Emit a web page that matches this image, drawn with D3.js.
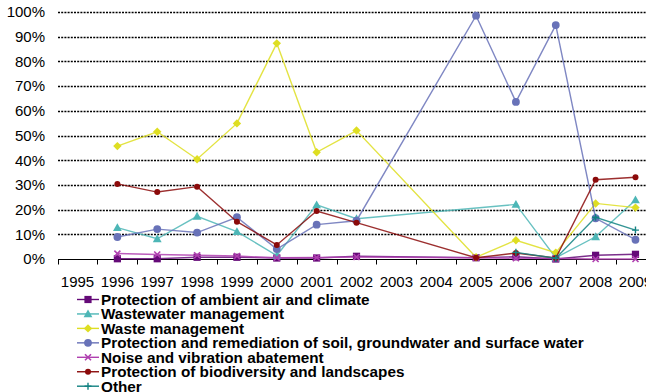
<!DOCTYPE html>
<html><head><meta charset="utf-8">
<script src="https://cdn.jsdelivr.net/npm/d3@7"></script>
<style>
html,body{margin:0;padding:0;background:#fff;overflow:hidden}
svg{display:block;font-family:Arial,"Liberation Sans",sans-serif}
</style></head>
<body>
<script>
const years = ["1995","1996","1997","1998","1999","2000","2001","2002","2003","2004","2005","2006","2007","2008","2009"];
const yTicks = [0,0.1,0.2,0.3,0.4,0.5,0.6,0.7,0.8,0.9,1.0];
const seriesNames = [
  "Protection of ambient air and climate",
  "Wastewater management",
  "Waste management",
  "Protection and remediation of soil, groundwater and surface water",
  "Noise and vibration abatement",
  "Protection of biodiversity and landscapes",
  "Other"
];
// values in percent
const airClimate   = [null,0.1,0.1,0.7,0.7,0.4,0.4,1.1,null,null,0.5,0.9,0.0,1.5,1.9];
const wastewater   = [null,12.7,8.2,17.3,11.1,1.4,21.9,16.3,null,null,null,22.1,0.5,9.0,23.9];
const waste        = [null,45.7,51.5,40.4,54.9,87.3,43.2,52.0,null,null,0.7,7.6,2.6,22.5,20.8];
const soil         = [null,8.9,12.1,10.7,16.9,4.0,13.9,15.5,null,null,98.5,63.6,94.7,16.5,7.8];
const noise        = [null,2.2,1.8,1.5,1.2,0.5,0.6,0.8,null,null,0.5,0.3,0.2,0.0,0.0];
const biodiversity = [null,30.4,27.1,29.3,15.1,5.7,19.4,14.7,null,null,0.5,2.4,0.4,32.1,33.1];
const other        = [null,null,null,null,null,null,null,null,null,null,null,2.7,0.3,16.9,11.7];

const seriesValues = [airClimate, wastewater, waste, soil, noise, biodiversity, other];
const colors = ["#650A78","#4DB6B6","#DEDE22","#6872B8","#B040B0","#8B0A0A","#128282"];
const shapes = ["square","triangle","diamond","circle","cross","smallcircle","plus"];

const W = 646, H = 392;
const svg = d3.select("body").append("svg").attr("width", W).attr("height", H);

const x = d3.scaleBand().domain(years).range([57.6, 655.4]).paddingInner(0).paddingOuter(0);
const y = d3.scaleLinear().domain([0, 1]).range([259, 12]);
const cx = d => x(d) + x.bandwidth() / 2;

// gridlines
svg.append("g").selectAll("line").data(yTicks.filter(t => t > 0)).join("line")
  .attr("x1", 58).attr("x2", W)
  .attr("y1", d => Math.round(y(d)) + 0.5).attr("y2", d => Math.round(y(d)) + 0.5)
  .attr("stroke", "#000").attr("stroke-width", 1.6).attr("stroke-dasharray", "2,1.2");

// y axis labels
const yAxis = d3.axisLeft(y).tickValues(yTicks).tickFormat(d3.format(".0%")).tickSize(0).tickPadding(0);
const gy = svg.append("g").attr("transform", "translate(45,0)").call(yAxis);
gy.select(".domain").remove();
gy.selectAll("text").attr("font-size", 15).attr("fill", "#000")
  .attr("font-family", "Arial, 'Liberation Sans', sans-serif");

// x axis
const xAxis = d3.axisBottom(x).tickSize(0).tickPadding(0);
const gx = svg.append("g").attr("transform", "translate(0,259.5)").call(xAxis);
gx.select(".domain").remove();
gx.selectAll("text").attr("font-size", 15).attr("fill", "#000").attr("y", 17)
  .attr("font-family", "Arial, 'Liberation Sans', sans-serif");
svg.append("line").attr("x1", 58).attr("x2", W).attr("y1", 259.5).attr("y2", 259.5)
  .attr("stroke", "#000").attr("stroke-width", 1);
// tick marks between categories
const boundaries = years.map(d => x(d));
svg.append("g").selectAll("line").data(boundaries).join("line")
  .attr("x1", d => Math.round(d) + 0.5).attr("x2", d => Math.round(d) + 0.5)
  .attr("y1", 259.5).attr("y2", 264.5).attr("stroke", "#000").attr("stroke-width", 1);

function drawMarker(g, shape, color, px, py) {
  const s = 3.6;
  if (shape === "square") {
    g.append("rect").attr("x", px - s).attr("y", py - s).attr("width", 2*s).attr("height", 2*s).attr("fill", color);
  } else if (shape === "triangle") {
    g.append("path").attr("d", `M${px},${py-4.4}L${px+4.4},${py+3.4}L${px-4.4},${py+3.4}Z`).attr("fill", color);
  } else if (shape === "diamond") {
    g.append("path").attr("d", `M${px},${py-4.2}L${px+4.2},${py}L${px},${py+4.2}L${px-4.2},${py}Z`).attr("fill", color);
  } else if (shape === "circle") {
    g.append("circle").attr("cx", px).attr("cy", py).attr("r", 3.9).attr("fill", color);
  } else if (shape === "smallcircle") {
    g.append("circle").attr("cx", px).attr("cy", py).attr("r", 3).attr("fill", color);
  } else if (shape === "cross") {
    g.append("path").attr("d", `M${px-3},${py-3}L${px+3},${py+3}M${px+3},${py-3}L${px-3},${py+3}`)
      .attr("stroke", color).attr("stroke-width", 1.6);
  } else if (shape === "plus") {
    g.append("path").attr("d", `M${px-3.5},${py}L${px+3.5},${py}M${px},${py-3.5}L${px},${py+3.5}`)
      .attr("stroke", color).attr("stroke-width", 1.4);
  }
}

const line = d3.line().x(d => cx(d.year)).y(d => y(d.v / 100));

seriesValues.forEach((vals, i) => {
  const pts = years.map((yr, j) => ({year: yr, v: vals[j]})).filter(d => d.v !== null);
  const g = svg.append("g");
  g.append("path").attr("d", line(pts)).attr("fill", "none")
    .attr("stroke", colors[i]).attr("stroke-width", 1.4).attr("stroke-opacity", 0.85);
  pts.forEach(d => drawMarker(g, shapes[i], colors[i], cx(d.year), y(d.v / 100)));
});

// legend
const lg = svg.append("g");
seriesNames.forEach((name, i) => {
  const ry = 299.5 + i * 14.45;
  lg.append("line").attr("x1", 77).attr("x2", 99).attr("y1", ry).attr("y2", ry)
    .attr("stroke", colors[i]).attr("stroke-width", 1.4);
  drawMarker(lg, shapes[i], colors[i], 88, ry);
  lg.append("text").attr("x", 101).attr("y", ry + 5.3).text(name)
    .attr("font-size", 15.3).attr("font-weight", "bold").attr("fill", "#000");
});
</script>
</body></html>
